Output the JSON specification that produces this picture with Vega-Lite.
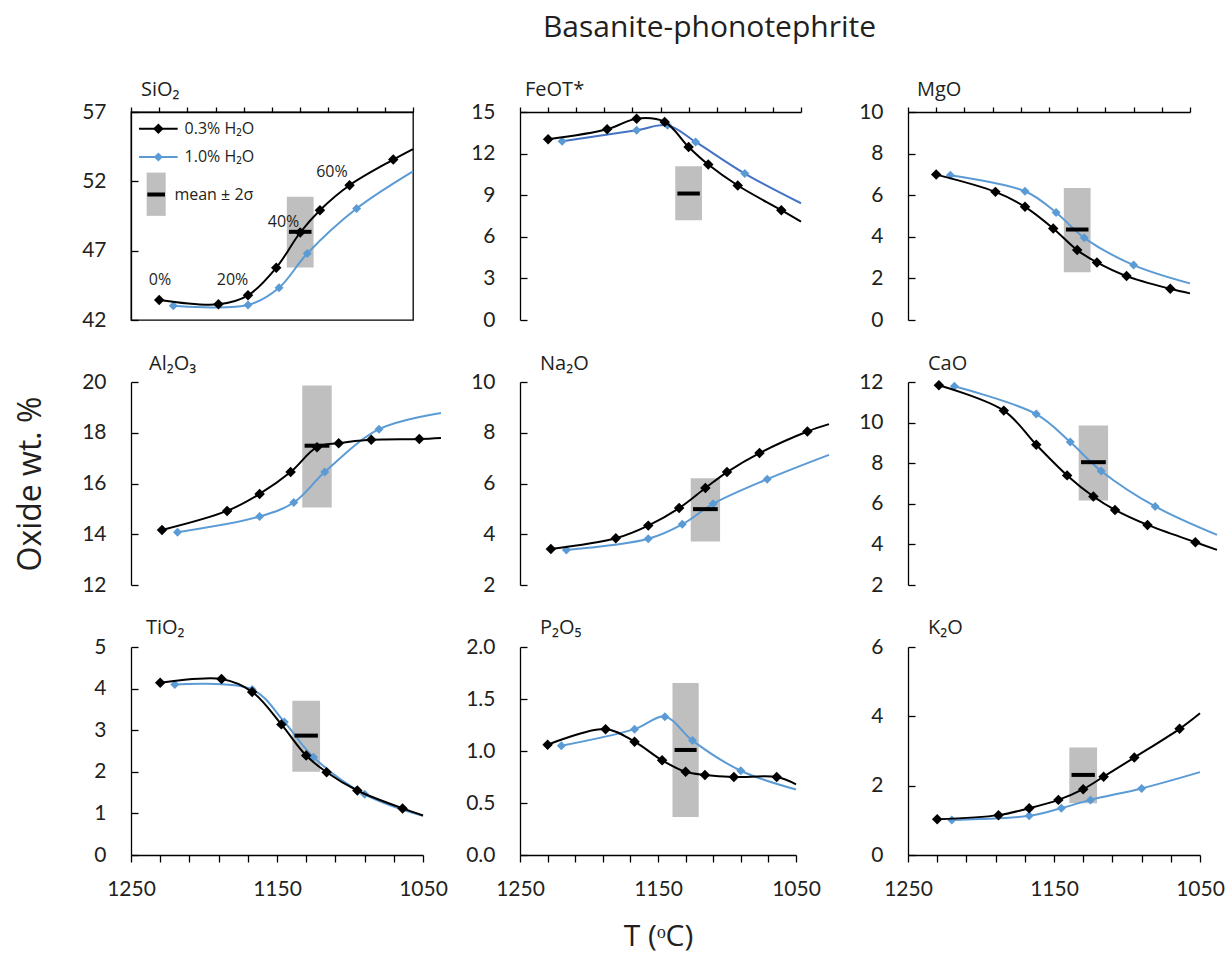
{
"$schema": "https://vega.github.io/schema/vega-lite/v6.json",
"padding": {"left": 14, "top": 13, "right": 5, "bottom": 5},
"title": {"text": "Basanite-phonotephrite", "fontSize": 30, "font": "Open Sans", "fontWeight": "normal", "color": "#231f20", "anchor": "middle", "frame": "bounds", "dx": 90, "offset": 12, "baseline": "alphabetic"},
"config": {
  "view": {"stroke": null},
  "font": "Open Sans",
  "axis": {"domainColor": "black", "domainWidth": 1.3, "tickColor": "black", "tickWidth": 1.3, "labelFont": "Lato", "labelFontSize": 21, "labelColor": "#231f20", "grid": false, "titleFont": "Open Sans", "titleFontSize": 32, "titleFontWeight": "normal", "titleColor": "#231f20", "labelFlush": false, "labelOverlap": false},
  "axisY": {"tickSize": -7, "labelPadding": 32},
  "title": {"font": "Open Sans", "fontSize": 20, "fontWeight": "normal", "color": "#231f20", "anchor": "start", "frame": "group", "baseline": "alphabetic"}
},
"datasets": {
"d": [
{"ox":"SiO2","k":"c","s":"k","T":1230,"v":43.44,"m":1},
{"ox":"SiO2","k":"c","s":"k","T":1188,"v":43.13,"m":1},
{"ox":"SiO2","k":"c","s":"k","T":1167,"v":43.78,"m":1},
{"ox":"SiO2","k":"c","s":"k","T":1147,"v":45.77,"m":1},
{"ox":"SiO2","k":"c","s":"k","T":1130,"v":48.31,"m":1},
{"ox":"SiO2","k":"c","s":"k","T":1116,"v":49.92,"m":1},
{"ox":"SiO2","k":"c","s":"k","T":1095,"v":51.72,"m":1},
{"ox":"SiO2","k":"c","s":"k","T":1064,"v":53.57,"m":1},
{"ox":"SiO2","k":"c","s":"k","T":1050,"v":54.33,"m":0},
{"ox":"SiO2","k":"c","s":"b","T":1220,"v":43.03,"m":1},
{"ox":"SiO2","k":"c","s":"b","T":1167,"v":43.08,"m":1},
{"ox":"SiO2","k":"c","s":"b","T":1145,"v":44.33,"m":1},
{"ox":"SiO2","k":"c","s":"b","T":1125,"v":46.8,"m":1},
{"ox":"SiO2","k":"c","s":"b","T":1090,"v":50.04,"m":1},
{"ox":"SiO2","k":"c","s":"b","T":1050,"v":52.72,"m":0},
{"ox":"SiO2","k":"box","T":1139.5,"T2":1120.5,"v":45.79,"v2":50.88},
{"ox":"SiO2","k":"mean","T":1138,"T2":1122,"v":48.36},
{"ox":"SiO2","k":"box","T":1238.9,"T2":1225.4,"v":49.51,"v2":52.63},
{"ox":"SiO2","k":"mean","T":1238.4,"T2":1225.9,"v":51.05},
{"ox":"SiO2","k":"ll","s":"k","T":1244.3,"v":55.8,"m":0},
{"ox":"SiO2","k":"ll","s":"k","T":1230.6,"v":55.8,"m":1},
{"ox":"SiO2","k":"ll","s":"k","T":1216.9,"v":55.8,"m":0},
{"ox":"SiO2","k":"ll","s":"b","T":1244.3,"v":53.76,"m":0},
{"ox":"SiO2","k":"ll","s":"b","T":1230.6,"v":53.76,"m":1},
{"ox":"SiO2","k":"ll","s":"b","T":1216.9,"v":53.76,"m":0},
{"ox":"SiO2","k":"lt","T":1212,"v":55.8,"label":"0.3% H₂O"},
{"ox":"SiO2","k":"lt","T":1212,"v":53.76,"label":"1.0% H₂O"},
{"ox":"SiO2","k":"lt","T":1219.2,"v":51.05,"label":"mean ± 2σ"},
{"ox":"SiO2","k":"pct","T":1229.4,"v":44.88,"label":"0%"},
{"ox":"SiO2","k":"pct","T":1178,"v":44.88,"label":"20%"},
{"ox":"SiO2","k":"pct","T":1141.8,"v":49.08,"label":"40%"},
{"ox":"SiO2","k":"pct","T":1107.5,"v":52.68,"label":"60%"},

{"ox":"FeOT","k":"c","s":"k","T":1230,"v":13.03,"m":1},
{"ox":"FeOT","k":"c","s":"k","T":1188,"v":13.75,"m":1},
{"ox":"FeOT","k":"c","s":"k","T":1167,"v":14.52,"m":1},
{"ox":"FeOT","k":"c","s":"k","T":1147,"v":14.28,"m":1},
{"ox":"FeOT","k":"c","s":"k","T":1130,"v":12.48,"m":1},
{"ox":"FeOT","k":"c","s":"k","T":1116,"v":11.21,"m":1},
{"ox":"FeOT","k":"c","s":"k","T":1095,"v":9.7,"m":1},
{"ox":"FeOT","k":"c","s":"k","T":1064,"v":7.92,"m":1},
{"ox":"FeOT","k":"c","s":"k","T":1050,"v":7.1,"m":0},
{"ox":"FeOT","k":"c","s":"b","T":1220,"v":12.89,"m":1},
{"ox":"FeOT","k":"c","s":"b","T":1167,"v":13.68,"m":1},
{"ox":"FeOT","k":"c","s":"b","T":1145,"v":14.04,"m":1},
{"ox":"FeOT","k":"c","s":"b","T":1125,"v":12.84,"m":1},
{"ox":"FeOT","k":"c","s":"b","T":1090,"v":10.56,"m":1},
{"ox":"FeOT","k":"c","s":"b","T":1050,"v":8.42,"m":0},
{"ox":"FeOT","k":"box","T":1139.5,"T2":1120.5,"v":7.2,"v2":11.09},
{"ox":"FeOT","k":"mean","T":1138,"T2":1122,"v":9.12},

{"ox":"MgO","k":"c","s":"k","T":1230,"v":6.99,"m":1},
{"ox":"MgO","k":"c","s":"k","T":1188,"v":6.16,"m":1},
{"ox":"MgO","k":"c","s":"k","T":1167,"v":5.44,"m":1},
{"ox":"MgO","k":"c","s":"k","T":1147,"v":4.4,"m":1},
{"ox":"MgO","k":"c","s":"k","T":1130,"v":3.36,"m":1},
{"ox":"MgO","k":"c","s":"k","T":1116,"v":2.77,"m":1},
{"ox":"MgO","k":"c","s":"k","T":1095,"v":2.11,"m":1},
{"ox":"MgO","k":"c","s":"k","T":1064,"v":1.5,"m":1},
{"ox":"MgO","k":"c","s":"k","T":1050,"v":1.28,"m":0},
{"ox":"MgO","k":"c","s":"b","T":1220,"v":6.96,"m":1},
{"ox":"MgO","k":"c","s":"b","T":1167,"v":6.19,"m":1},
{"ox":"MgO","k":"c","s":"b","T":1145,"v":5.17,"m":1},
{"ox":"MgO","k":"c","s":"b","T":1125,"v":3.95,"m":1},
{"ox":"MgO","k":"c","s":"b","T":1090,"v":2.64,"m":1},
{"ox":"MgO","k":"c","s":"b","T":1050,"v":1.76,"m":0},
{"ox":"MgO","k":"box","T":1139.5,"T2":1120.5,"v":2.29,"v2":6.35},
{"ox":"MgO","k":"mean","T":1138,"T2":1122,"v":4.35},

{"ox":"Al2O3","k":"c","s":"k","T":1230,"v":14.17,"m":1},
{"ox":"Al2O3","k":"c","s":"k","T":1188,"v":14.92,"m":1},
{"ox":"Al2O3","k":"c","s":"k","T":1167,"v":15.59,"m":1},
{"ox":"Al2O3","k":"c","s":"k","T":1147,"v":16.45,"m":1},
{"ox":"Al2O3","k":"c","s":"k","T":1130,"v":17.43,"m":1},
{"ox":"Al2O3","k":"c","s":"k","T":1116,"v":17.59,"m":1},
{"ox":"Al2O3","k":"c","s":"k","T":1095,"v":17.72,"m":1},
{"ox":"Al2O3","k":"c","s":"k","T":1064,"v":17.75,"m":1},
{"ox":"Al2O3","k":"c","s":"k","T":1050,"v":17.79,"m":0},
{"ox":"Al2O3","k":"c","s":"b","T":1220,"v":14.08,"m":1},
{"ox":"Al2O3","k":"c","s":"b","T":1167,"v":14.7,"m":1},
{"ox":"Al2O3","k":"c","s":"b","T":1145,"v":15.25,"m":1},
{"ox":"Al2O3","k":"c","s":"b","T":1125,"v":16.45,"m":1},
{"ox":"Al2O3","k":"c","s":"b","T":1090,"v":18.14,"m":1},
{"ox":"Al2O3","k":"c","s":"b","T":1050,"v":18.78,"m":0},
{"ox":"Al2O3","k":"box","T":1139.5,"T2":1120.5,"v":15.05,"v2":19.86},
{"ox":"Al2O3","k":"mean","T":1138,"T2":1122,"v":17.49},

{"ox":"Na2O","k":"c","s":"k","T":1230,"v":3.42,"m":1},
{"ox":"Na2O","k":"c","s":"k","T":1188,"v":3.84,"m":1},
{"ox":"Na2O","k":"c","s":"k","T":1167,"v":4.34,"m":1},
{"ox":"Na2O","k":"c","s":"k","T":1147,"v":5.03,"m":1},
{"ox":"Na2O","k":"c","s":"k","T":1130,"v":5.82,"m":1},
{"ox":"Na2O","k":"c","s":"k","T":1116,"v":6.45,"m":1},
{"ox":"Na2O","k":"c","s":"k","T":1095,"v":7.2,"m":1},
{"ox":"Na2O","k":"c","s":"k","T":1064,"v":8.05,"m":1},
{"ox":"Na2O","k":"c","s":"k","T":1050,"v":8.34,"m":0},
{"ox":"Na2O","k":"c","s":"b","T":1220,"v":3.38,"m":1},
{"ox":"Na2O","k":"c","s":"b","T":1167,"v":3.82,"m":1},
{"ox":"Na2O","k":"c","s":"b","T":1145,"v":4.39,"m":1},
{"ox":"Na2O","k":"c","s":"b","T":1125,"v":5.2,"m":1},
{"ox":"Na2O","k":"c","s":"b","T":1090,"v":6.17,"m":1},
{"ox":"Na2O","k":"c","s":"b","T":1050,"v":7.13,"m":0},
{"ox":"Na2O","k":"box","T":1139.5,"T2":1120.5,"v":3.71,"v2":6.21},
{"ox":"Na2O","k":"mean","T":1138,"T2":1122,"v":4.99},

{"ox":"CaO","k":"c","s":"k","T":1230,"v":11.84,"m":1},
{"ox":"CaO","k":"c","s":"k","T":1188,"v":10.59,"m":1},
{"ox":"CaO","k":"c","s":"k","T":1167,"v":8.91,"m":1},
{"ox":"CaO","k":"c","s":"k","T":1147,"v":7.4,"m":1},
{"ox":"CaO","k":"c","s":"k","T":1130,"v":6.36,"m":1},
{"ox":"CaO","k":"c","s":"k","T":1116,"v":5.7,"m":1},
{"ox":"CaO","k":"c","s":"k","T":1095,"v":4.96,"m":1},
{"ox":"CaO","k":"c","s":"k","T":1064,"v":4.11,"m":1},
{"ox":"CaO","k":"c","s":"k","T":1050,"v":3.73,"m":0},
{"ox":"CaO","k":"c","s":"b","T":1220,"v":11.79,"m":1},
{"ox":"CaO","k":"c","s":"b","T":1167,"v":10.42,"m":1},
{"ox":"CaO","k":"c","s":"b","T":1145,"v":9.04,"m":1},
{"ox":"CaO","k":"c","s":"b","T":1125,"v":7.62,"m":1},
{"ox":"CaO","k":"c","s":"b","T":1090,"v":5.87,"m":1},
{"ox":"CaO","k":"c","s":"b","T":1050,"v":4.47,"m":0},
{"ox":"CaO","k":"box","T":1139.5,"T2":1120.5,"v":6.16,"v2":9.86},
{"ox":"CaO","k":"mean","T":1138,"T2":1122,"v":8.05},

{"ox":"TiO2","k":"c","s":"k","T":1230,"v":4.14,"m":1},
{"ox":"TiO2","k":"c","s":"k","T":1188,"v":4.23,"m":1},
{"ox":"TiO2","k":"c","s":"k","T":1167,"v":3.92,"m":1},
{"ox":"TiO2","k":"c","s":"k","T":1147,"v":3.14,"m":1},
{"ox":"TiO2","k":"c","s":"k","T":1130,"v":2.39,"m":1},
{"ox":"TiO2","k":"c","s":"k","T":1116,"v":1.99,"m":1},
{"ox":"TiO2","k":"c","s":"k","T":1095,"v":1.55,"m":1},
{"ox":"TiO2","k":"c","s":"k","T":1064,"v":1.12,"m":1},
{"ox":"TiO2","k":"c","s":"k","T":1050,"v":0.95,"m":0},
{"ox":"TiO2","k":"c","s":"b","T":1220,"v":4.1,"m":1},
{"ox":"TiO2","k":"c","s":"b","T":1167,"v":3.98,"m":1},
{"ox":"TiO2","k":"c","s":"b","T":1145,"v":3.2,"m":1},
{"ox":"TiO2","k":"c","s":"b","T":1125,"v":2.35,"m":1},
{"ox":"TiO2","k":"c","s":"b","T":1090,"v":1.46,"m":1},
{"ox":"TiO2","k":"c","s":"b","T":1050,"v":0.94,"m":0},
{"ox":"TiO2","k":"box","T":1139.5,"T2":1120.5,"v":2.0,"v2":3.71},
{"ox":"TiO2","k":"mean","T":1138,"T2":1122,"v":2.87},

{"ox":"P2O5","k":"c","s":"k","T":1230,"v":1.06,"m":1},
{"ox":"P2O5","k":"c","s":"k","T":1188,"v":1.21,"m":1},
{"ox":"P2O5","k":"c","s":"k","T":1167,"v":1.09,"m":1},
{"ox":"P2O5","k":"c","s":"k","T":1147,"v":0.91,"m":1},
{"ox":"P2O5","k":"c","s":"k","T":1130,"v":0.8,"m":1},
{"ox":"P2O5","k":"c","s":"k","T":1116,"v":0.77,"m":1},
{"ox":"P2O5","k":"c","s":"k","T":1095,"v":0.75,"m":1},
{"ox":"P2O5","k":"c","s":"k","T":1064,"v":0.75,"m":1},
{"ox":"P2O5","k":"c","s":"k","T":1050,"v":0.68,"m":0},
{"ox":"P2O5","k":"c","s":"b","T":1220,"v":1.05,"m":1},
{"ox":"P2O5","k":"c","s":"b","T":1167,"v":1.21,"m":1},
{"ox":"P2O5","k":"c","s":"b","T":1145,"v":1.33,"m":1},
{"ox":"P2O5","k":"c","s":"b","T":1125,"v":1.1,"m":1},
{"ox":"P2O5","k":"c","s":"b","T":1090,"v":0.81,"m":1},
{"ox":"P2O5","k":"c","s":"b","T":1050,"v":0.63,"m":0},
{"ox":"P2O5","k":"box","T":1139.5,"T2":1120.5,"v":0.365,"v2":1.654},
{"ox":"P2O5","k":"mean","T":1138,"T2":1122,"v":1.01},

{"ox":"K2O","k":"c","s":"k","T":1230,"v":1.03,"m":1},
{"ox":"K2O","k":"c","s":"k","T":1188,"v":1.15,"m":1},
{"ox":"K2O","k":"c","s":"k","T":1167,"v":1.35,"m":1},
{"ox":"K2O","k":"c","s":"k","T":1147,"v":1.59,"m":1},
{"ox":"K2O","k":"c","s":"k","T":1130,"v":1.9,"m":1},
{"ox":"K2O","k":"c","s":"k","T":1116,"v":2.26,"m":1},
{"ox":"K2O","k":"c","s":"k","T":1095,"v":2.81,"m":1},
{"ox":"K2O","k":"c","s":"k","T":1064,"v":3.64,"m":1},
{"ox":"K2O","k":"c","s":"k","T":1050,"v":4.09,"m":0},
{"ox":"K2O","k":"c","s":"b","T":1220,"v":1.01,"m":1},
{"ox":"K2O","k":"c","s":"b","T":1167,"v":1.13,"m":1},
{"ox":"K2O","k":"c","s":"b","T":1145,"v":1.35,"m":1},
{"ox":"K2O","k":"c","s":"b","T":1125,"v":1.59,"m":1},
{"ox":"K2O","k":"c","s":"b","T":1090,"v":1.92,"m":1},
{"ox":"K2O","k":"c","s":"b","T":1050,"v":2.39,"m":0},
{"ox":"K2O","k":"box","T":1139.5,"T2":1120.5,"v":1.49,"v2":3.1},
{"ox":"K2O","k":"mean","T":1138,"T2":1122,"v":2.31}
]
},
"columns": 3,
"align": "each",
"bounds": "flush",
"spacing": {"row": 62, "column": 79},
"concat": [
{
 "width": 282, "height": 208,
 "title": {"text": "SiO₂", "dx": 10, "offset": 1},
 "view": {"stroke": "black", "strokeWidth": 1.3},
 "data": {"name": "d"},
 "transform": [{"filter": "datum.ox=='SiO2'"}],
 "encoding": {
  "x": {"field": "T", "type": "quantitative", "scale": {"domain": [1050, 1250], "reverse": true, "nice": false, "zero": false}, "axis": {"orient": "top", "labels": false, "values": [1050,1070,1090,1110,1130,1150,1170,1190,1210,1230,1250], "tickSize": 5, "title": null}},
  "y": {"field": "v", "type": "quantitative", "scale": {"domain": [42, 57], "nice": false, "zero": false}, "axis": {"values": [42,47,52,57], "title": null}}
 },
 "layer": [
  {"transform": [{"filter": "datum.k=='box'"}], "mark": {"type": "rect", "color": "#bfbfbf"}, "encoding": {"x2": {"field": "T2"}, "y2": {"field": "v2"}}},
  {"transform": [{"filter": "datum.s=='b'"}], "mark": {"type": "line", "interpolate": "catmull-rom", "strokeWidth": 2, "color": "#5b9bd5"}, "encoding": {"detail": {"field": "k"}}},
  {"transform": [{"filter": "datum.s=='b' && datum.m==1"}], "mark": {"type": "point", "shape": "diamond", "filled": true, "size": 81, "color": "#5b9bd5", "opacity": 1}},
  {"transform": [{"filter": "datum.s=='k'"}], "mark": {"type": "line", "interpolate": "catmull-rom", "strokeWidth": 2, "color": "black"}, "encoding": {"detail": {"field": "k"}}},
  {"transform": [{"filter": "datum.s=='k' && datum.m==1"}], "mark": {"type": "point", "shape": "diamond", "filled": true, "size": 110, "color": "black", "opacity": 1}},
  {"transform": [{"filter": "datum.k=='mean'"}], "mark": {"type": "rule", "strokeWidth": 4, "color": "black"}, "encoding": {"x2": {"field": "T2"}}},
  {"transform": [{"filter": "datum.k=='lt'"}], "mark": {"type": "text", "align": "left", "baseline": "middle", "fontSize": 16, "font": "Open Sans", "color": "#231f20"}, "encoding": {"text": {"field": "label"}}},
  {"transform": [{"filter": "datum.k=='pct'"}], "mark": {"type": "text", "align": "center", "baseline": "middle", "fontSize": 16, "font": "Open Sans", "color": "#231f20"}, "encoding": {"text": {"field": "label"}}}
 ]
},
{
 "width": 281, "height": 208,
 "title": {"text": "FeOT*", "dx": 5, "offset": 1},
 "data": {"name": "d"},
 "transform": [{"filter": "datum.ox=='FeOT'"}],
 "encoding": {
  "x": {"field": "T", "type": "quantitative", "scale": {"domain": [1050, 1250], "reverse": true, "nice": false, "zero": false}, "axis": {"orient": "top", "labels": false, "values": [1050,1070,1090,1110,1130,1150,1170,1190,1210,1230,1250], "tickSize": 5, "title": null}},
  "y": {"field": "v", "type": "quantitative", "scale": {"domain": [0, 15], "nice": false, "zero": false}, "axis": {"values": [0,3,6,9,12,15], "title": null}}
 },
 "layer": [
  {"transform": [{"filter": "datum.k=='box'"}], "mark": {"type": "rect", "color": "#bfbfbf"}, "encoding": {"x2": {"field": "T2"}, "y2": {"field": "v2"}}},
  {"transform": [{"filter": "datum.s=='b'"}], "mark": {"type": "line", "interpolate": "catmull-rom", "strokeWidth": 2, "color": "#4472c4"}, "encoding": {"detail": {"field": "k"}}},
  {"transform": [{"filter": "datum.s=='b' && datum.m==1"}], "mark": {"type": "point", "shape": "diamond", "filled": true, "size": 81, "color": "#5b9bd5", "opacity": 1}},
  {"transform": [{"filter": "datum.s=='k'"}], "mark": {"type": "line", "interpolate": "catmull-rom", "strokeWidth": 2, "color": "black"}, "encoding": {"detail": {"field": "k"}}},
  {"transform": [{"filter": "datum.s=='k' && datum.m==1"}], "mark": {"type": "point", "shape": "diamond", "filled": true, "size": 110, "color": "black", "opacity": 1}},
  {"transform": [{"filter": "datum.k=='mean'"}], "mark": {"type": "rule", "strokeWidth": 4, "color": "black"}, "encoding": {"x2": {"field": "T2"}}}
 ]
},
{
 "width": 282, "height": 208,
 "title": {"text": "MgO", "dx": 9, "offset": 1},
 "data": {"name": "d"},
 "transform": [{"filter": "datum.ox=='MgO'"}],
 "encoding": {
  "x": {"field": "T", "type": "quantitative", "scale": {"domain": [1050, 1250], "reverse": true, "nice": false, "zero": false}, "axis": {"orient": "top", "labels": false, "values": [1050,1070,1090,1110,1130,1150,1170,1190,1210,1230,1250], "tickSize": 5, "title": null}},
  "y": {"field": "v", "type": "quantitative", "scale": {"domain": [0, 10], "nice": false, "zero": false}, "axis": {"values": [0,2,4,6,8,10], "title": null}}
 },
 "layer": [
  {"transform": [{"filter": "datum.k=='box'"}], "mark": {"type": "rect", "color": "#bfbfbf"}, "encoding": {"x2": {"field": "T2"}, "y2": {"field": "v2"}}},
  {"transform": [{"filter": "datum.s=='b'"}], "mark": {"type": "line", "interpolate": "catmull-rom", "strokeWidth": 2, "color": "#5b9bd5"}, "encoding": {"detail": {"field": "k"}}},
  {"transform": [{"filter": "datum.s=='b' && datum.m==1"}], "mark": {"type": "point", "shape": "diamond", "filled": true, "size": 81, "color": "#5b9bd5", "opacity": 1}},
  {"transform": [{"filter": "datum.s=='k'"}], "mark": {"type": "line", "interpolate": "catmull-rom", "strokeWidth": 2, "color": "black"}, "encoding": {"detail": {"field": "k"}}},
  {"transform": [{"filter": "datum.s=='k' && datum.m==1"}], "mark": {"type": "point", "shape": "diamond", "filled": true, "size": 110, "color": "black", "opacity": 1}},
  {"transform": [{"filter": "datum.k=='mean'"}], "mark": {"type": "rule", "strokeWidth": 4, "color": "black"}, "encoding": {"x2": {"field": "T2"}}}
 ]
},
{
 "width": 310, "height": 203,
 "title": {"text": "Al₂O₃", "dx": 18, "offset": -3},
 "data": {"name": "d"},
 "transform": [{"filter": "datum.ox=='Al2O3'"}],
 "encoding": {
  "x": {"field": "T", "type": "quantitative", "scale": {"domain": [1050, 1250], "reverse": true, "nice": false, "zero": false}, "axis": null},
  "y": {"field": "v", "type": "quantitative", "scale": {"domain": [12, 20], "nice": false, "zero": false}, "axis": {"values": [12,14,16,18,20], "title": "Oxide wt. %", "titlePadding": 34}}
 },
 "layer": [
  {"transform": [{"filter": "datum.k=='box'"}], "mark": {"type": "rect", "color": "#bfbfbf"}, "encoding": {"x2": {"field": "T2"}, "y2": {"field": "v2"}}},
  {"transform": [{"filter": "datum.s=='b'"}], "mark": {"type": "line", "interpolate": "catmull-rom", "strokeWidth": 2, "color": "#5b9bd5"}, "encoding": {"detail": {"field": "k"}}},
  {"transform": [{"filter": "datum.s=='b' && datum.m==1"}], "mark": {"type": "point", "shape": "diamond", "filled": true, "size": 81, "color": "#5b9bd5", "opacity": 1}},
  {"transform": [{"filter": "datum.s=='k'"}], "mark": {"type": "line", "interpolate": "catmull-rom", "strokeWidth": 2, "color": "black"}, "encoding": {"detail": {"field": "k"}}},
  {"transform": [{"filter": "datum.s=='k' && datum.m==1"}], "mark": {"type": "point", "shape": "diamond", "filled": true, "size": 110, "color": "black", "opacity": 1}},
  {"transform": [{"filter": "datum.k=='mean'"}], "mark": {"type": "rule", "strokeWidth": 4, "color": "black"}, "encoding": {"x2": {"field": "T2"}}}
 ]
},
{
 "width": 309, "height": 203,
 "title": {"text": "Na₂O", "dx": 20, "offset": -3},
 "data": {"name": "d"},
 "transform": [{"filter": "datum.ox=='Na2O'"}],
 "encoding": {
  "x": {"field": "T", "type": "quantitative", "scale": {"domain": [1050, 1250], "reverse": true, "nice": false, "zero": false}, "axis": null},
  "y": {"field": "v", "type": "quantitative", "scale": {"domain": [2, 10], "nice": false, "zero": false}, "axis": {"values": [2,4,6,8,10], "title": null}}
 },
 "layer": [
  {"transform": [{"filter": "datum.k=='box'"}], "mark": {"type": "rect", "color": "#bfbfbf"}, "encoding": {"x2": {"field": "T2"}, "y2": {"field": "v2"}}},
  {"transform": [{"filter": "datum.s=='b'"}], "mark": {"type": "line", "interpolate": "catmull-rom", "strokeWidth": 2, "color": "#5b9bd5"}, "encoding": {"detail": {"field": "k"}}},
  {"transform": [{"filter": "datum.s=='b' && datum.m==1"}], "mark": {"type": "point", "shape": "diamond", "filled": true, "size": 81, "color": "#5b9bd5", "opacity": 1}},
  {"transform": [{"filter": "datum.s=='k'"}], "mark": {"type": "line", "interpolate": "catmull-rom", "strokeWidth": 2, "color": "black"}, "encoding": {"detail": {"field": "k"}}},
  {"transform": [{"filter": "datum.s=='k' && datum.m==1"}], "mark": {"type": "point", "shape": "diamond", "filled": true, "size": 110, "color": "black", "opacity": 1}},
  {"transform": [{"filter": "datum.k=='mean'"}], "mark": {"type": "rule", "strokeWidth": 4, "color": "black"}, "encoding": {"x2": {"field": "T2"}}}
 ]
},
{
 "width": 309, "height": 203,
 "title": {"text": "CaO", "dx": 20, "offset": -3},
 "data": {"name": "d"},
 "transform": [{"filter": "datum.ox=='CaO'"}],
 "encoding": {
  "x": {"field": "T", "type": "quantitative", "scale": {"domain": [1050, 1250], "reverse": true, "nice": false, "zero": false}, "axis": null},
  "y": {"field": "v", "type": "quantitative", "scale": {"domain": [2, 12], "nice": false, "zero": false}, "axis": {"values": [2,4,6,8,10,12], "title": null}}
 },
 "layer": [
  {"transform": [{"filter": "datum.k=='box'"}], "mark": {"type": "rect", "color": "#bfbfbf"}, "encoding": {"x2": {"field": "T2"}, "y2": {"field": "v2"}}},
  {"transform": [{"filter": "datum.s=='b'"}], "mark": {"type": "line", "interpolate": "catmull-rom", "strokeWidth": 2, "color": "#5b9bd5"}, "encoding": {"detail": {"field": "k"}}},
  {"transform": [{"filter": "datum.s=='b' && datum.m==1"}], "mark": {"type": "point", "shape": "diamond", "filled": true, "size": 81, "color": "#5b9bd5", "opacity": 1}},
  {"transform": [{"filter": "datum.s=='k'"}], "mark": {"type": "line", "interpolate": "catmull-rom", "strokeWidth": 2, "color": "black"}, "encoding": {"detail": {"field": "k"}}},
  {"transform": [{"filter": "datum.s=='k' && datum.m==1"}], "mark": {"type": "point", "shape": "diamond", "filled": true, "size": 110, "color": "black", "opacity": 1}},
  {"transform": [{"filter": "datum.k=='mean'"}], "mark": {"type": "rule", "strokeWidth": 4, "color": "black"}, "encoding": {"x2": {"field": "T2"}}}
 ]
},
{
 "width": 292, "height": 208,
 "title": {"text": "TiO₂", "dx": 15, "offset": -2},
 "data": {"name": "d"},
 "transform": [{"filter": "datum.ox=='TiO2'"}],
 "encoding": {
  "x": {"field": "T", "type": "quantitative", "scale": {"domain": [1050, 1250], "reverse": true, "nice": false, "zero": false}, "axis": {"orient": "bottom", "format": "d", "values": [1050,1070,1090,1110,1130,1150,1170,1190,1210,1230,1250], "tickSize": 7, "labelPadding": 16, "labelExpr": "datum.value % 100 == 50 ? datum.label : ''", "title": null}},
  "y": {"field": "v", "type": "quantitative", "scale": {"domain": [0, 5], "nice": false, "zero": false}, "axis": {"values": [0,1,2,3,4,5], "title": null}}
 },
 "layer": [
  {"transform": [{"filter": "datum.k=='box'"}], "mark": {"type": "rect", "color": "#bfbfbf"}, "encoding": {"x2": {"field": "T2"}, "y2": {"field": "v2"}}},
  {"transform": [{"filter": "datum.s=='b'"}], "mark": {"type": "line", "interpolate": "catmull-rom", "strokeWidth": 2, "color": "#5b9bd5"}, "encoding": {"detail": {"field": "k"}}},
  {"transform": [{"filter": "datum.s=='b' && datum.m==1"}], "mark": {"type": "point", "shape": "diamond", "filled": true, "size": 81, "color": "#5b9bd5", "opacity": 1}},
  {"transform": [{"filter": "datum.s=='k'"}], "mark": {"type": "line", "interpolate": "catmull-rom", "strokeWidth": 2, "color": "black"}, "encoding": {"detail": {"field": "k"}}},
  {"transform": [{"filter": "datum.s=='k' && datum.m==1"}], "mark": {"type": "point", "shape": "diamond", "filled": true, "size": 110, "color": "black", "opacity": 1}},
  {"transform": [{"filter": "datum.k=='mean'"}], "mark": {"type": "rule", "strokeWidth": 4, "color": "black"}, "encoding": {"x2": {"field": "T2"}}}
 ]
},
{
 "width": 276, "height": 208,
 "title": {"text": "P₂O₅", "dx": 20, "offset": -2},
 "data": {"name": "d"},
 "transform": [{"filter": "datum.ox=='P2O5'"}],
 "encoding": {
  "x": {"field": "T", "type": "quantitative", "scale": {"domain": [1050, 1250], "reverse": true, "nice": false, "zero": false}, "axis": {"orient": "bottom", "format": "d", "values": [1050,1070,1090,1110,1130,1150,1170,1190,1210,1230,1250], "tickSize": 7, "labelPadding": 16, "labelExpr": "datum.value % 100 == 50 ? datum.label : ''", "title": "T (ᵒC)", "titlePadding": 22, "titleFontSize": 30}},
  "y": {"field": "v", "type": "quantitative", "scale": {"domain": [0, 2], "nice": false, "zero": false}, "axis": {"values": [0,0.5,1,1.5,2], "format": ".1f", "title": null}}
 },
 "layer": [
  {"transform": [{"filter": "datum.k=='box'"}], "mark": {"type": "rect", "color": "#bfbfbf"}, "encoding": {"x2": {"field": "T2"}, "y2": {"field": "v2"}}},
  {"transform": [{"filter": "datum.s=='b'"}], "mark": {"type": "line", "interpolate": "catmull-rom", "strokeWidth": 2, "color": "#5b9bd5"}, "encoding": {"detail": {"field": "k"}}},
  {"transform": [{"filter": "datum.s=='b' && datum.m==1"}], "mark": {"type": "point", "shape": "diamond", "filled": true, "size": 81, "color": "#5b9bd5", "opacity": 1}},
  {"transform": [{"filter": "datum.s=='k'"}], "mark": {"type": "line", "interpolate": "catmull-rom", "strokeWidth": 2, "color": "black"}, "encoding": {"detail": {"field": "k"}}},
  {"transform": [{"filter": "datum.s=='k' && datum.m==1"}], "mark": {"type": "point", "shape": "diamond", "filled": true, "size": 110, "color": "black", "opacity": 1}},
  {"transform": [{"filter": "datum.k=='mean'"}], "mark": {"type": "rule", "strokeWidth": 4, "color": "black"}, "encoding": {"x2": {"field": "T2"}}}
 ]
},
{
 "width": 292, "height": 208,
 "title": {"text": "K₂O", "dx": 20, "offset": -2},
 "data": {"name": "d"},
 "transform": [{"filter": "datum.ox=='K2O'"}],
 "encoding": {
  "x": {"field": "T", "type": "quantitative", "scale": {"domain": [1050, 1250], "reverse": true, "nice": false, "zero": false}, "axis": {"orient": "bottom", "format": "d", "values": [1050,1070,1090,1110,1130,1150,1170,1190,1210,1230,1250], "tickSize": 7, "labelPadding": 16, "labelExpr": "datum.value % 100 == 50 ? datum.label : ''", "title": null}},
  "y": {"field": "v", "type": "quantitative", "scale": {"domain": [0, 6], "nice": false, "zero": false}, "axis": {"values": [0,2,4,6], "title": null}}
 },
 "layer": [
  {"transform": [{"filter": "datum.k=='box'"}], "mark": {"type": "rect", "color": "#bfbfbf"}, "encoding": {"x2": {"field": "T2"}, "y2": {"field": "v2"}}},
  {"transform": [{"filter": "datum.s=='b'"}], "mark": {"type": "line", "interpolate": "catmull-rom", "strokeWidth": 2, "color": "#5b9bd5"}, "encoding": {"detail": {"field": "k"}}},
  {"transform": [{"filter": "datum.s=='b' && datum.m==1"}], "mark": {"type": "point", "shape": "diamond", "filled": true, "size": 81, "color": "#5b9bd5", "opacity": 1}},
  {"transform": [{"filter": "datum.s=='k'"}], "mark": {"type": "line", "interpolate": "catmull-rom", "strokeWidth": 2, "color": "black"}, "encoding": {"detail": {"field": "k"}}},
  {"transform": [{"filter": "datum.s=='k' && datum.m==1"}], "mark": {"type": "point", "shape": "diamond", "filled": true, "size": 110, "color": "black", "opacity": 1}},
  {"transform": [{"filter": "datum.k=='mean'"}], "mark": {"type": "rule", "strokeWidth": 4, "color": "black"}, "encoding": {"x2": {"field": "T2"}}}
 ]
}
]
}
